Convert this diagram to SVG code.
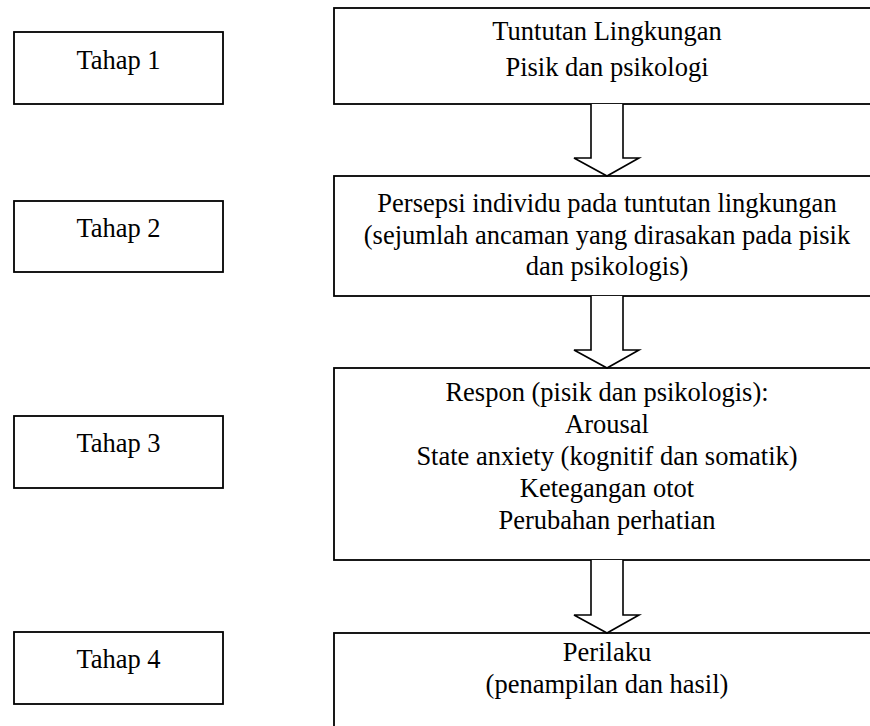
<svg xmlns="http://www.w3.org/2000/svg" width="870" height="726" viewBox="0 0 870 726">
<style>
.box{fill:#fff;stroke:#000;stroke-width:1.8}
.t{font-family:"Liberation Serif","Times New Roman",serif;font-size:26.5px;fill:#000;text-anchor:middle}
.arr{fill:#fff;stroke:#000;stroke-width:1.6;stroke-linejoin:miter}
</style>
<rect width="870" height="726" fill="#fff"/>
<g id="tahap1"><rect class="box" x="14" y="32" width="209" height="72"/><text class="t" x="118.5" y="69">Tahap 1</text></g>
<g id="tahap2"><rect class="box" x="14" y="201" width="209" height="71"/><text class="t" x="118.5" y="237">Tahap 2</text></g>
<g id="tahap3"><rect class="box" x="14" y="416" width="209" height="72"/><text class="t" x="118.5" y="452">Tahap 3</text></g>
<g id="tahap4"><rect class="box" x="14" y="632" width="209" height="72"/><text class="t" x="118.5" y="668">Tahap 4</text></g>
<g id="box1"><rect class="box" x="334" y="8" width="546" height="96"/>
<text class="t" x="607" y="40">Tuntutan Lingkungan</text>
<text class="t" x="607" y="76">Pisik dan psikologi</text></g>
<g id="box2"><rect class="box" x="334" y="176" width="546" height="120"/>
<text class="t" x="607" y="212">Persepsi individu pada tuntutan lingkungan</text>
<text class="t" x="607" y="244">(sejumlah ancaman yang dirasakan pada pisik</text>
<text class="t" x="607" y="275">dan psikologis)</text></g>
<g id="box3"><rect class="box" x="334" y="368" width="546" height="192"/>
<text class="t" x="607" y="401">Respon (pisik dan psikologis):</text>
<text class="t" x="607" y="433">Arousal</text>
<text class="t" x="607" y="465">State anxiety (kognitif dan somatik)</text>
<text class="t" x="607" y="497">Ketegangan otot</text>
<text class="t" x="607" y="529">Perubahan perhatian</text></g>
<g id="box4"><rect class="box" x="334" y="633" width="546" height="120"/>
<text class="t" x="607" y="661">Perilaku</text>
<text class="t" x="607" y="693">(penampilan dan hasil)</text></g>
<g id="connectors">
<path class="arr" d="M591 104 V158 H574 L607 176 L639 158 H623 V104"/>
<path class="arr" d="M591 296 V350 H574 L607 368 L639 350 H623 V296"/>
<path class="arr" d="M591 560 V615 H574 L607 633 L639 615 H623 V560"/>
</g>
</svg>
